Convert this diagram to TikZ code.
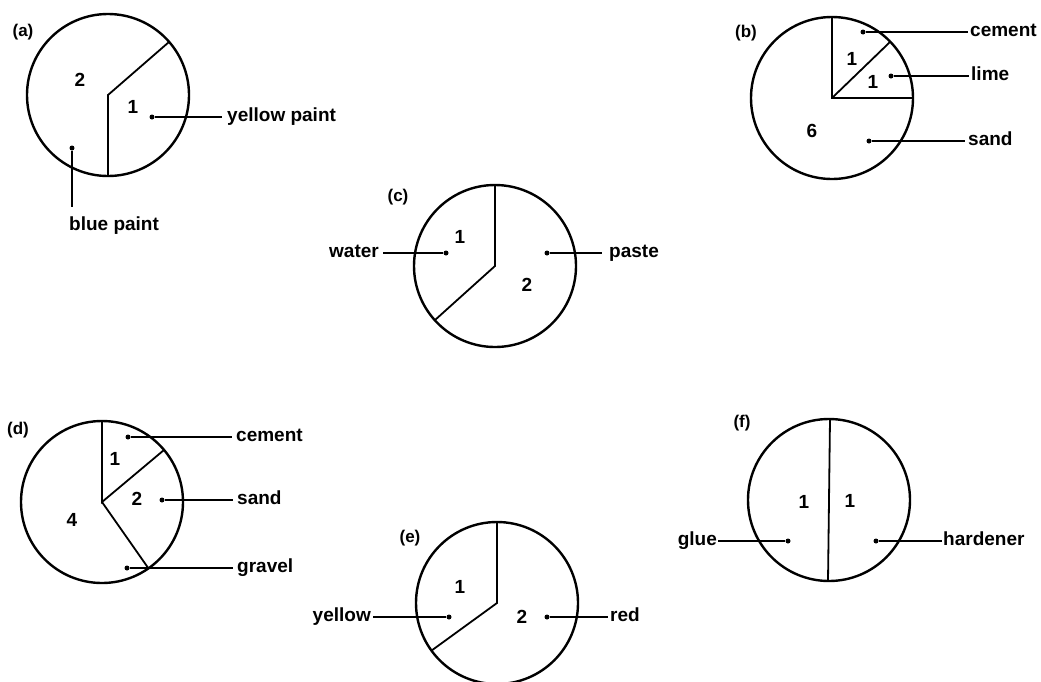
\documentclass[tikz,border=0pt]{standalone}
\usepackage{fontspec}
\setmainfont{Liberation Sans}
\usetikzlibrary{calc}
\tikzset{
  x=1pt, y=-1pt,
  pie/.style={line width=2.4pt},
  radial/.style={line width=1.8pt},
  leader/.style={line width=1.5pt},
  num/.style={inner sep=0pt, font=\fontsize{19}{22}\selectfont\bfseries},
  panel/.style={inner sep=0pt, font=\fontsize{17}{20}\selectfont\bfseries},
  lab/.style={inner ysep=0pt, text height=13pt, text depth=3.5pt, font=\fontsize{19}{22}\selectfont\bfseries},
  dot/.style={circle, fill=black, inner sep=0pt, minimum size=5pt},
}
\begin{document}
\begin{tikzpicture}
\useasboundingbox (0,0) rectangle (1041,681);
\fill[white] (0,0) rectangle (1041,681);

% ---------- (a)
\coordinate (ca) at (108,95);
\draw[pie] (ca) circle[radius=81pt];
\draw[radial] ($(ca)+(0,81)$) -- (ca) -- ++(-41:81);
\node[panel] (pa) at (23,32) {(a)};
\node[num] (a2) at (80,80) {2};
\node[num] (a1) at (133,107) {1};
\node[dot] (ady) at (152,117) {};
\node[lab, anchor=west, inner xsep=5pt] (aly) at (222,117) {yellow paint};
\draw[leader] (ady) -- (aly.west);
\node[dot] (adb) at (72,148) {};
\node[lab, anchor=base west, inner xsep=0pt] (alb) at (69,230) {blue paint};
\draw[leader, shorten >=10pt] (adb) -- (adb |- alb.north);

% ---------- (b)
\coordinate (cb) at (832,98);
\draw[pie] (cb) circle[radius=81pt];
\draw[radial] ($(cb)+(0,-81)$) -- (cb) -- ($(cb)+(81,0)$);
\draw[radial] (cb) -- ++(-44:81);
\node[panel] (pb) at (746,33) {(b)};
\node[num] (b1a) at (852,59) {1};
\node[num] (b1b) at (873,82) {1};
\node[num] (b6) at (812,131) {6};
\node[dot] (bdc) at (863,32) {};
\node[lab, anchor=west, inner xsep=2pt] (blc) at (968,32) {cement};
\draw[leader] (bdc) -- (blc.west);
\node[dot] (bdl) at (891,76) {};
\node[lab, anchor=west, inner xsep=2pt] (bll) at (969,76) {lime};
\draw[leader] (bdl) -- (bll.west);
\node[dot] (bds) at (869,141) {};
\node[lab, anchor=west, inner xsep=3pt] (bls) at (965,141) {sand};
\draw[leader] (bds) -- (bls.west);

% ---------- (c)
\coordinate (cc) at (495,266);
\draw[pie] (cc) circle[radius=81pt];
\draw[radial] ($(cc)+(0,-81)$) -- (cc) -- ++(138:81);
\node[panel] (pc) at (398,197) {(c)};
\node[num] (c1) at (460,237) {1};
\node[num] (c2) at (527,285) {2};
\node[dot] (cdw) at (446,253) {};
\node[lab, anchor=east, inner xsep=4pt] (clw) at (383,253) {water};
\draw[leader] (cdw) -- (clw.east);
\node[dot] (cdp) at (547,253) {};
\node[lab, anchor=west, inner xsep=7pt] (clp) at (602,253) {paste};
\draw[leader] (cdp) -- (clp.west);

% ---------- (d)
\coordinate (cd) at (102,502);
\draw[pie] (cd) circle[radius=81pt];
\draw[radial] ($(cd)+(0,-81)$) -- (cd) -- ++(-40:81);
\draw[radial] (cd) -- ++(55:81);
\node[panel] (pd) at (18,430) {(d)};
\node[num] (d1) at (115,459) {1};
\node[num] (d2) at (137,499) {2};
\node[num] (d4) at (72,520) {4};
\node[dot] (ddc) at (128,437) {};
\node[lab, anchor=west, inner xsep=4pt] (dlc) at (232,437) {cement};
\draw[leader] (ddc) -- (dlc.west);
\node[dot] (dds) at (162,500) {};
\node[lab, anchor=west, inner xsep=4pt] (dls) at (233,500) {sand};
\draw[leader] (dds) -- (dls.west);
\node[dot] (ddg) at (127,568) {};
\node[lab, anchor=west, inner xsep=4pt] (dlg) at (233,568) {gravel};
\draw[leader] (ddg) -- (dlg.west);

% ---------- (e)
\coordinate (ce) at (497,603);
\draw[pie] (ce) circle[radius=81pt];
\draw[radial] ($(ce)+(0,-81)$) -- (ce) -- ++(144:81);
\node[panel] (pe) at (410,538) {(e)};
\node[num] (e1) at (460,587) {1};
\node[num] (e2) at (522,617) {2};
\node[dot] (edy) at (449,617) {};
\node[lab, anchor=east, inner xsep=2pt] (ely) at (373,617) {yellow};
\draw[leader] (edy) -- (ely.east);
\node[dot] (edr) at (547,617) {};
\node[lab, anchor=west, inner xsep=2pt] (elr) at (608,617) {red};
\draw[leader] (edr) -- (elr.west);

% ---------- (f)
\coordinate (cf) at (829,500);
\draw[pie] (cf) circle[radius=81pt];
\draw[radial] ($(cf)+(1,-81)$) -- ($(cf)+(-1,81)$);
\node[panel] (pf) at (742,423) {(f)};
\node[num] (f1a) at (804,502) {1};
\node[num] (f1b) at (850,501) {1};
\node[dot] (fdg) at (788,541) {};
\node[lab, anchor=east, inner xsep=1pt] (flg) at (718,541) {glue};
\draw[leader] (fdg) -- (flg.east);
\node[dot] (fdh) at (876,541) {};
\node[lab, anchor=west, inner xsep=1pt] (flh) at (942,541) {hardener};
\draw[leader] (fdh) -- (flh.west);
\end{tikzpicture}
\end{document}
